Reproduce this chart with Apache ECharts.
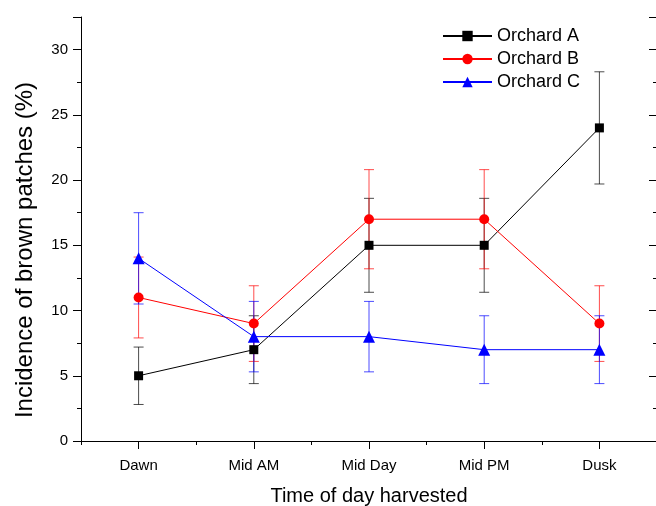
<!DOCTYPE html>
<html><head><meta charset="utf-8">
<script src="https://cdn.jsdelivr.net/npm/echarts@6/dist/echarts.min.js"></script>
<style>html,body{margin:0;padding:0;background:#fff}#c{width:656px;height:506px}</style>
</head><body><div id="c"></div>
<script>
const categories = ['Dawn', 'Mid AM', 'Mid Day', 'Mid PM', 'Dusk'];
const seriesNames = ['Orchard A', 'Orchard B', 'Orchard C'];
const orchardA = [5, 7, 15, 15, 24];
const orchardAErr = [2.2, 2.6, 3.6, 3.6, 4.3];
const orchardB = [11, 9, 17, 17, 9];
const orchardBErr = [3.1, 2.9, 3.8, 3.8, 2.9];
const orchardC = [14, 8, 8, 7, 7];
const orchardCErr = [3.5, 2.7, 2.7, 2.6, 2.6];
const yTickLabels = [0, 5, 10, 15, 20, 25, 30];

const FONT = 'Liberation Sans, Arial, sans-serif';
const colors = ['#000000', '#ff0000', '#0000ff'];
const symbols = ['rect', 'circle', 'triangle'];
const symbolSizes = [9, 10, 12];
const values = [orchardA, orchardB, orchardC];
const errs = [orchardAErr, orchardBErr, orchardCErr];

function errRender(color) {
  return function (params, api) {
    const x = api.value(0);
    const lo = api.coord([x, api.value(1)]);
    const hi = api.coord([x, api.value(2)]);
    const hw = 5;
    const st = { stroke: color, lineWidth: 1, opacity: 0.7 };
    return { type: 'group', children: [
      { type: 'line', shape: { x1: lo[0], y1: lo[1], x2: hi[0], y2: hi[1] }, style: st },
      { type: 'line', shape: { x1: lo[0] - hw, y1: lo[1], x2: lo[0] + hw, y2: lo[1] }, style: st },
      { type: 'line', shape: { x1: hi[0] - hw, y1: hi[1], x2: hi[0] + hw, y2: hi[1] }, style: st }
    ]};
  };
}

const series = [];
for (let s = 0; s < 3; s++) {
  series.push({
    type: 'custom', name: seriesNames[s] + ' err', xAxisIndex: 0, yAxisIndex: 0,
    renderItem: errRender(colors[s]),
    encode: { x: 0, y: [1, 2] },
    data: values[s].map((v, i) => [i, v - errs[s][i], v + errs[s][i]]),
    silent: true
  });
  series.push({
    type: 'line', name: seriesNames[s], xAxisIndex: 0, yAxisIndex: 0,
    data: values[s], symbol: symbols[s], symbolSize: symbolSizes[s],
    lineStyle: { color: colors[s], width: 1 },
    itemStyle: { color: colors[s] },
    showAllSymbol: true
  });
}

const axisLineStyle = { show: true, lineStyle: { color: '#000', width: 1 } };
const tickStyle = { color: '#000', width: 1 };
const yLabelFmt = v => (yTickLabels.indexOf(v) >= 0 ? String(v) : '');

const option = {
  animation: false,
  textStyle: { fontFamily: FONT },
  grid: { left: 81, right: -1, top: 17, bottom: 65, containLabel: false, outerBoundsMode: 'none' },
  legend: {
    data: seriesNames, orient: 'vertical', left: 437, top: 22,
    itemWidth: 49, itemHeight: 13, itemGap: 5,
    textStyle: { fontSize: 18, color: '#000', fontFamily: FONT }
  },
  xAxis: [
    { type: 'category', data: categories, position: 'bottom', boundaryGap: true,
      axisLine: axisLineStyle,
      axisTick: { show: true, alignWithLabel: true, interval: 0, length: 8, lineStyle: tickStyle },
      axisLabel: { fontSize: 15, color: '#000', margin: 17, interval: 0, fontFamily: FONT },
      splitLine: { show: false },
      name: 'Time of day harvested', nameLocation: 'middle', nameGap: 45,
      nameTextStyle: { fontSize: 20, color: '#000', fontFamily: FONT } },
    { type: 'category', data: categories, position: 'bottom', boundaryGap: true,
      axisLine: { show: false },
      axisTick: { show: true, interval: 0, length: 4, lineStyle: tickStyle },
      axisLabel: { show: false }, splitLine: { show: false } },
    { type: 'category', data: categories, position: 'top', boundaryGap: true,
      axisLine: axisLineStyle,
      axisTick: { show: true, alignWithLabel: true, interval: 0, inside: true, length: 8, lineStyle: tickStyle },
      axisLabel: { show: false }, splitLine: { show: false } },
    { type: 'category', data: categories, position: 'top', boundaryGap: true,
      axisLine: { show: false },
      axisTick: { show: true, interval: 0, inside: true, length: 4, lineStyle: tickStyle },
      axisLabel: { show: false }, splitLine: { show: false } }
  ],
  yAxis: [
    { type: 'value', position: 'left', min: 0, max: 32.5, interval: 5,
      axisLine: axisLineStyle,
      axisTick: { show: true, length: 8, lineStyle: tickStyle },
      axisLabel: { fontSize: 15, color: '#000', margin: 13, fontFamily: FONT, formatter: yLabelFmt },
      splitLine: { show: false },
      name: 'Incidence of brown patches (%)', nameLocation: 'middle', nameGap: 44,
      nameTextStyle: { fontSize: 24, color: '#000', fontFamily: FONT, padding: [0, 42, 0, 0] } },
    { type: 'value', position: 'left', min: 0, max: 32.5, interval: 2.5,
      axisLine: { show: false },
      axisTick: { show: true, length: 4, lineStyle: tickStyle },
      axisLabel: { show: false }, splitLine: { show: false } },
    { type: 'value', position: 'right', min: 0, max: 32.5, interval: 5,
      axisLine: axisLineStyle,
      axisTick: { show: true, inside: true, length: 8, lineStyle: tickStyle },
      axisLabel: { show: false }, splitLine: { show: false } },
    { type: 'value', position: 'right', min: 0, max: 32.5, interval: 2.5,
      axisLine: { show: false },
      axisTick: { show: true, inside: true, length: 4, lineStyle: tickStyle },
      axisLabel: { show: false }, splitLine: { show: false } }
  ],
  series: series
};

const chart = echarts.init(document.getElementById('c'), null, { renderer: 'canvas' });
chart.setOption(option);
</script>
</body></html>
